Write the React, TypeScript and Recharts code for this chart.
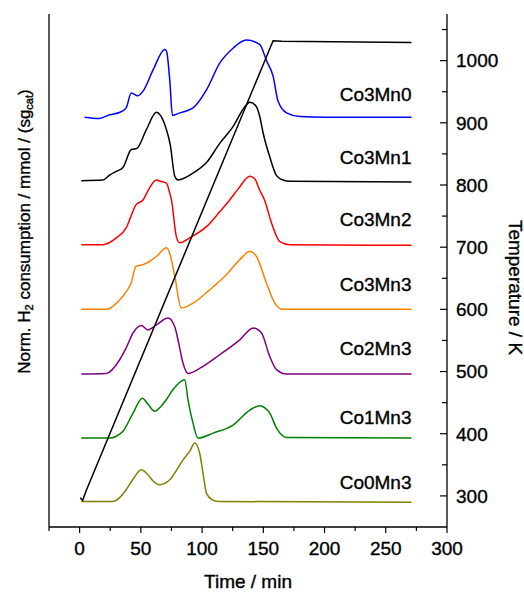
import React from "react"
import { LineChart, Line, XAxis, YAxis, Label } from "recharts"

// [time / min, stacked signal on the temperature scale]
const co3mn0: [number, number][] = [
  [4, 909], [16, 907], [24.5, 913], [33, 917], [38, 924], [42.2, 948], [47.5, 943.5], [51.8, 951],
  [60, 985], [69.5, 1018], [71, 1015], [73.6, 969], [75.8, 912], [81.7, 916], [92.6, 924],
  [103.6, 953], [114.4, 996], [125.3, 1020], [136.2, 1033], [147, 1026], [152.6, 1000],
  [158, 975], [162, 935], [169, 916], [180, 910], [200, 909], [271, 909],
]
const co3mn1: [number, number][] = [
  [1.4, 807], [19, 808], [24.5, 816], [30, 822], [35.4, 828], [42.2, 857], [46.8, 859],
  [54.5, 889], [62.7, 917], [66, 912], [70.9, 889], [74, 865], [77.7, 814], [80.4, 808],
  [92.6, 819], [103.6, 836], [114.4, 867], [125.3, 894], [134.9, 926], [139, 933], [144, 927],
  [147, 911], [149.8, 884], [155.3, 845], [160.8, 815], [166, 808], [172, 806], [271, 805],
]
const co3mn2: [number, number][] = [
  [1.4, 704], [19, 704], [30, 715], [38, 731], [42, 750], [46, 768], [51.8, 776], [57, 795],
  [62.7, 808], [66, 806], [70.9, 803], [73.6, 787], [75, 776], [79, 717], [81.7, 707],
  [89.9, 715], [103.6, 733], [114, 756], [122.6, 776], [130, 795], [139, 814], [143, 810],
  [147, 792], [151, 776], [156.7, 739], [163.5, 709], [171.7, 704], [271, 703],
]
const co3mn3: [number, number][] = [
  [1.4, 600], [21.8, 600], [32.7, 615], [38, 628], [42, 642], [46, 669], [51.8, 672], [57, 677],
  [62.7, 685], [70.9, 699], [73.6, 690], [77.7, 653], [83, 602], [92.6, 610], [106, 631],
  [120, 656], [130.8, 680], [139, 693], [144.4, 685], [152.6, 642], [159.4, 610], [166, 600],
  [271, 600],
]
const co2mn3: [number, number][] = [
  [1.4, 496], [21.8, 497], [32.7, 519], [38, 538], [43.6, 562], [50.4, 574], [55.8, 567],
  [62.7, 575], [72.2, 586], [77.7, 572], [81, 545], [84.5, 513], [88.6, 497], [98, 505],
  [114.4, 527], [130.8, 551], [141.7, 570], [148.5, 562], [155.3, 524], [160.8, 503], [169, 496],
  [271, 496],
]
const co1mn3: [number, number][] = [
  [1.4, 393], [24.5, 393], [30, 396], [35.4, 404], [43.6, 433], [51.2, 457], [56, 447],
  [61.3, 436], [66, 443], [70.9, 455], [76.3, 471], [85.8, 487], [88.5, 455], [92.6, 417],
  [96.7, 393], [109, 401], [125.3, 414], [139, 438], [147, 445], [151, 442], [155.3, 433],
  [160.8, 409], [169, 394], [271, 393],
]
const co0mn3: [number, number][] = [
  [1.4, 291], [27, 291], [32, 296], [38, 310], [44, 328], [50.4, 342], [55.8, 334], [60, 324],
  [65.4, 318], [73.6, 326], [84.5, 358], [90, 372], [94, 385], [98, 369], [100.8, 336],
  [103.6, 304], [108, 294], [113.3, 291], [271, 290],
]
// temperature ramp, K
const temperature: [number, number][] = [
  [0.5, 297], [2.5, 293], [5.5, 309], [158, 1032], [165, 1031], [271, 1029],
]

const xTicks = [-25, 0, 25, 50, 75, 100, 125, 150, 175, 200, 225, 250, 275, 300]
const tTicks = [300, 350, 400, 450, 500, 550, 600, 650, 700, 750, 800, 850, 900, 950, 1000, 1050]

// gap = how far (px) the name sits above the curve end
const series = [
  { name: "Co3Mn0", color: "#0000ff", pts: co3mn0, gap: 23 },
  { name: "Co3Mn1", color: "#000000", pts: co3mn1, gap: 24.5 },
  { name: "Co3Mn2", color: "#ff0000", pts: co3mn2, gap: 26.5 },
  { name: "Co3Mn3", color: "#ff8000", pts: co3mn3, gap: 25 },
  { name: "Co2Mn3", color: "#800080", pts: co2mn3, gap: 26 },
  { name: "Co1Mn3", color: "#008000", pts: co1mn3, gap: 20.5 },
  { name: "Co0Mn3", color: "#808000", pts: co0mn3, gap: 19.5 },
]

const toRows = (pts: [number, number][]) => pts.map(([t, v]) => ({ t, v }))

const FONT = "'Liberation Sans', Arial, sans-serif"
const txt = { fontFamily: FONT, fill: "#000", stroke: "#000", strokeWidth: 0.35 }

const XTick = ({ x, y, payload }: any) => {
  const major = payload.value % 50 === 0
  const ay = y - 8
  return (
    <g>
      <line x1={x} x2={x} y1={ay} y2={ay + (major ? 6 : 4)} stroke="#000" strokeWidth={1.2} />
      {major && payload.value >= 0 && (
        <text x={x} y={ay + 28} textAnchor="middle" fontSize={19} {...txt}>
          {payload.value}
        </text>
      )}
    </g>
  )
}

const TTick = ({ x, y, payload }: any) => {
  const major = payload.value % 100 === 0
  const ax = x - 9
  return (
    <g>
      <line x1={ax} x2={ax - (major ? 7 : 5)} y1={y} y2={y} stroke="#000" strokeWidth={1.2} />
      {major && (
        <text x={x} y={y} dy={6.8} textAnchor="start" fontSize={19} {...txt}>
          {payload.value}
        </text>
      )}
    </g>
  )
}

const LeftTitle = ({ viewBox }: any) => {
  const cx = viewBox.x + 24
  const cy = viewBox.y + viewBox.height / 2 - 39
  return (
    <text
      x={cx}
      y={cy}
      transform={`rotate(-90 ${cx} ${cy})`}
      textAnchor="middle"
      dominantBaseline="central"
      fontSize={17}
      {...txt}
    >
      Norm. H
      <tspan fontSize={11} dy={5}>2</tspan>
      <tspan dy={-5}> consumption / mmol / (sg</tspan>
      <tspan fontSize={11} dy={5}>cat</tspan>
      <tspan dy={-5}>)</tspan>
    </text>
  )
}

const RightTitle = ({ viewBox }: any) => {
  const cx = viewBox.x + 68
  const cy = viewBox.y + viewBox.height / 2 + 17
  return (
    <text
      x={cx}
      y={cy}
      transform={`rotate(90 ${cx} ${cy})`}
      textAnchor="middle"
      dominantBaseline="central"
      fontSize={19}
      {...txt}
    >
      Temperature / K
    </text>
  )
}

const endLabel = (name: string, count: number, gap: number) => (props: any) => {
  const { x, y, index } = props
  if (index !== count - 1) return null
  return (
    <text x={x} y={y - gap} dy={6.8} textAnchor="end" fontSize={19} {...txt}>
      {name}
    </text>
  )
}

export default function App() {
  const axisLine = { stroke: "#000", strokeWidth: 1.3 }
  return (
    <div style={{ position: "absolute", left: 0, top: 0, background: "#fff" }}>
      <LineChart width={524} height={592} margin={{ top: 14, right: 0, left: 0, bottom: 0 }}>
        <XAxis
          xAxisId="b"
          type="number"
          dataKey="t"
          domain={[-25, 300]}
          ticks={xTicks}
          interval={0}
          allowDataOverflow
          height={65}
          axisLine={axisLine}
          tickLine={false}
          tickSize={6}
          tickMargin={2}
          tick={<XTick />}
        >
          <Label value="Time / min" position="insideBottom" offset={4} fontSize={19} {...txt} />
        </XAxis>
        <XAxis
          xAxisId="top"
          orientation="top"
          type="number"
          dataKey="t"
          domain={[-25, 300]}
          height={0}
          axisLine={axisLine}
          tick={false}
          tickLine={false}
        />
        <YAxis
          yAxisId="l"
          type="number"
          domain={[250, 1075]}
          allowDataOverflow
          width={49}
          axisLine={axisLine}
          tick={false}
          tickLine={false}
        >
          <Label content={<LeftTitle />} />
        </YAxis>
        <YAxis
          yAxisId="r"
          orientation="right"
          type="number"
          domain={[250, 1075]}
          ticks={tTicks}
          interval={0}
          allowDataOverflow
          width={77}
          axisLine={axisLine}
          tickLine={false}
          tickSize={0}
          tickMargin={9}
          tick={<TTick />}
        >
          <Label content={<RightTitle />} />
        </YAxis>
        {series.map((s) => (
          <Line
            key={s.name}
            xAxisId="b"
            yAxisId="l"
            data={toRows(s.pts)}
            dataKey="v"
            type="monotone"
            stroke={s.color}
            strokeWidth={1.5}
            dot={false}
            isAnimationActive={false}
            label={endLabel(s.name, s.pts.length, s.gap)}
          />
        ))}
        <Line
          xAxisId="b"
          yAxisId="r"
          data={toRows(temperature)}
          dataKey="v"
          type="linear"
          stroke="#000"
          strokeWidth={1.5}
          dot={false}
          isAnimationActive={false}
        />
      </LineChart>
    </div>
  )
}
